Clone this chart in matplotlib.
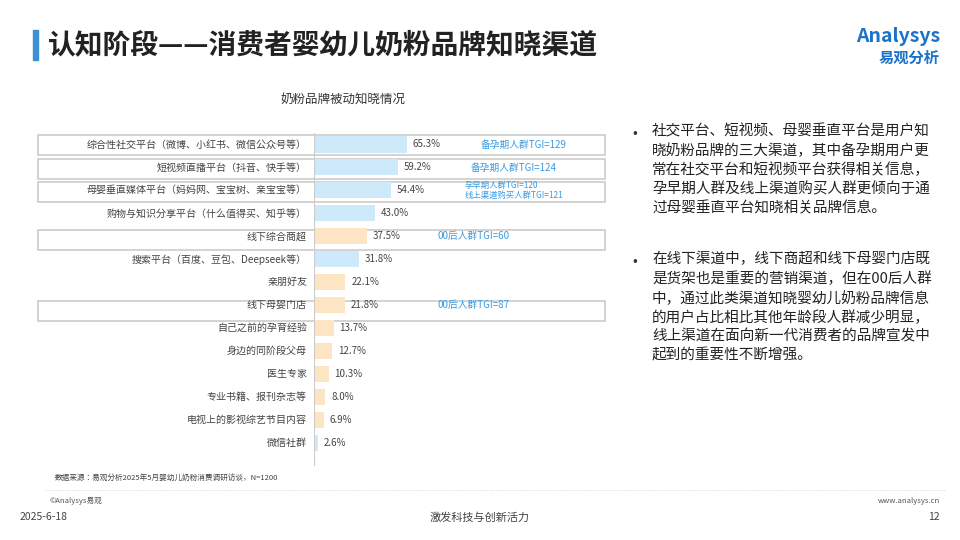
import matplotlib.pyplot as plt
from matplotlib.patches import Rectangle

plt.rcParams['font.family'] = 'Noto Sans CJK JP'

categories = ["综合性社交平台（微博、小红书、微信公众号等）", "短视频直播平台（抖音、快手等）",
              "母婴垂直媒体平台（妈妈网、宝宝树、亲宝宝等）", "购物与知识分享平台（什么值得买、知乎等）",
              "线下综合商超", "搜索平台（百度、豆包、Deepseek等）", "亲朋好友", "线下母婴门店",
              "自己之前的孕育经验", "身边的同阶段父母", "医生专家", "专业书籍、报刊杂志等",
              "电视上的影视综艺节目内容", "微信社群"]
values = [65.3, 59.2, 54.4, 43.0, 37.5, 31.8, 22.1, 21.8, 13.7, 12.7, 10.3, 8.0, 6.9, 2.6]
online = [True, True, True, True, False, True, False, False, False, False, False, False, False, True]
tgi_notes = {0: "备孕期人群TGI=129", 1: "备孕期人群TGI=124",
             2: "孕早期人群TGI=120\n线上渠道购买人群TGI=121",
             4: "00后人群TGI=60", 7: "00后人群TGI=87"}
tgi_x = {0: 117, 1: 110, 2: 106, 4: 87, 7: 87}

W, H = 960, 540
fig = plt.figure(figsize=(9.6, 5.4), dpi=100)
bg = fig.add_axes([0, 0, 1, 1])
bg.set_xlim(0, W); bg.set_ylim(H, 0); bg.axis('off')

# header
bg.add_patch(Rectangle((33, 30), 5, 30, color='#3d8fd6'))
bg.text(48, 45, "认知阶段——消费者婴幼儿奶粉品牌知晓渠道", fontsize=20, fontweight='bold',
        va='center', color='#222222')
bg.text(940, 36, "Analysys", fontsize=14, fontweight='bold', color='#1a73c9', ha='right',
        va='center', style='italic')
bg.text(940, 58, "易观分析", fontsize=11, fontweight='bold', color='#1a73c9', ha='right', va='center')
bg.text(343, 100, "奶粉品牌被动知晓情况", fontsize=9, ha='center', va='center', color='#333333')

# bars
n = len(categories)
x0, x1, ytop, ybot = 314, 620, 133, 466
ax = fig.add_axes([x0 / W, 1 - ybot / H, (x1 - x0) / W, (ybot - ytop) / H])
ax.set_xlim(0, (x1 - x0) / 1.424)
ax.set_ylim(n - 0.5 + 0.5, -0.5)
cols = ['#cde9fa' if o else '#fde5c4' for o in online]
ax.barh(range(n), values, height=0.7, color=cols)
for i, v in enumerate(values):
    ax.text(v + 4, i, f"{v:.1f}%", va='center', fontsize=7, color='#444444')
    ax.text(-5, i, categories[i], va='center', ha='right', fontsize=7.2, color='#444444', clip_on=False)
for i, note in tgi_notes.items():
    fs = 6 if '\n' in note else 7
    ax.text(tgi_x[i], i, note, va='center', fontsize=fs, color='#3a9ae0', linespacing=1.1)
ax.axvline(0, color='#cccccc', lw=0.8)
ax.axis('off')

rowh = (ybot - ytop) / n
for i in tgi_notes:
    yc = ytop + rowh * (i + 0.5)
    bg.add_patch(Rectangle((38, yc - 10), 567, 20, fill=False, ec='#cccccc', lw=1.2))

bg.text(55, 478, "数据来源：易观分析2025年5月婴幼儿奶粉消费调研访谈，N=1200", fontsize=5.5, color='#444444', va='center')
bg.plot([45, 945], [490, 490], color='#cccccc', lw=0.6, ls=':')
bg.text(50, 501, "©Analysys易观", fontsize=5.5, color='#555555', va='center')
bg.text(940, 501, "www.analysys.cn", fontsize=5.5, color='#555555', va='center', ha='right')
bg.text(20, 517, "2025-6-18", fontsize=7.5, color='#444444', va='center')
bg.text(480, 517, "激发科技与创新活力", fontsize=8, color='#444444', va='center', ha='center')
bg.text(940, 517, "12", fontsize=7.5, color='#444444', va='center', ha='right')

# commentary
bullets = [(124, "社交平台、短视频、母婴垂直平台是用户知\n晓奶粉品牌的三大渠道，其中备孕期用户更\n常在社交平台和短视频平台获得相关信息，\n孕早期人群及线上渠道购买人群更倾向于通\n过母婴垂直平台知晓相关品牌信息。"),
           (252, "在线下渠道中，线下商超和线下母婴门店既\n是货架也是重要的营销渠道，但在00后人群\n中，通过此类渠道知晓婴幼儿奶粉品牌信息\n的用户占比相比其他年龄段人群减少明显，\n线上渠道在面向新一代消费者的品牌宣发中\n起到的重要性不断增强。")]
for y, txt in bullets:
    bg.text(632, y + 2, "•", fontsize=10, va='top', color='#333333')
    bg.text(652, y, txt, fontsize=10.5, va='top', color='#222222', linespacing=1.42)

fig.savefig('out.png', dpi=100)
